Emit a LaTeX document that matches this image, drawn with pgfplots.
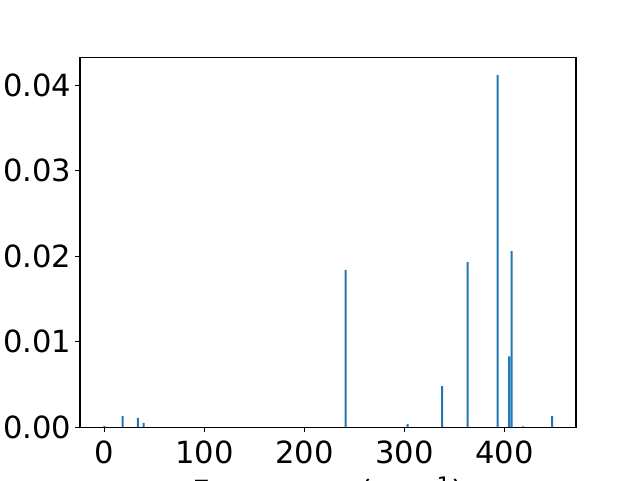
\documentclass[border=0pt]{standalone}
\usepackage{pgfplots}
\pgfplotsset{compat=1.18}
\usepackage{fontspec}
\setmainfont{DejaVu Sans}
\definecolor{mplblue}{HTML}{1F77B4}
\begin{document}
\begin{tikzpicture}[x=1pt,y=1pt]
\useasboundingbox (-80pt,-52.8pt) rectangle (560pt,427.2pt);
\clip (-80pt,-52.8pt) rectangle (560pt,427.2pt);
\begin{axis}[
  at={(0pt,0pt)}, anchor=south west,
  width=496pt, height=369.6pt, scale only axis,
  xmin=-24.3, xmax=471.7,
  ymin=0, ymax=0.04324,
  xtick={0,100,200,300,400},
  ytick={0,0.01,0.02,0.03,0.04},
  scaled y ticks=false,
  y tick label style={/pgf/number format/fixed,/pgf/number format/fixed zerofill,/pgf/number format/precision=2},
  /pgf/number format/assume math mode=true,
  tick pos=left,
  tick align=outside,
  major tick length=4.86pt,
  every tick/.style={black, line width=1.11pt},
  axis line style={black, line width=1.11pt},
  ticklabel style={font=\fontsize{30.56pt}{36pt}\selectfont},
  xticklabel style={anchor=north, inner sep=0pt, yshift=-9pt},
  yticklabel style={anchor=east, inner sep=0pt, xshift=-3.5pt},
  xlabel={Frequency (cm\textsuperscript{−1})},
  xlabel style={at={(axis description cs:0.5,0)}, anchor=north, inner sep=0pt, yshift=-50pt, font=\fontsize{30.56pt}{36pt}\selectfont},
]
\addplot[ybar, bar width=2, fill=mplblue, draw=none, bar shift=0pt] coordinates {
(0.0,0.00015)
(18.4,0.0013)
(33.7,0.00108)
(39.4,0.0005)
(241.4,0.0184)
(303.4,0.00035)
(337.7,0.0048)
(363.4,0.0193)
(393.4,0.0412)
(404.7,0.0083)
(407.4,0.0206)
(418.7,0.0001)
(447.7,0.0013)
};
\end{axis}
\end{tikzpicture}
\end{document}
